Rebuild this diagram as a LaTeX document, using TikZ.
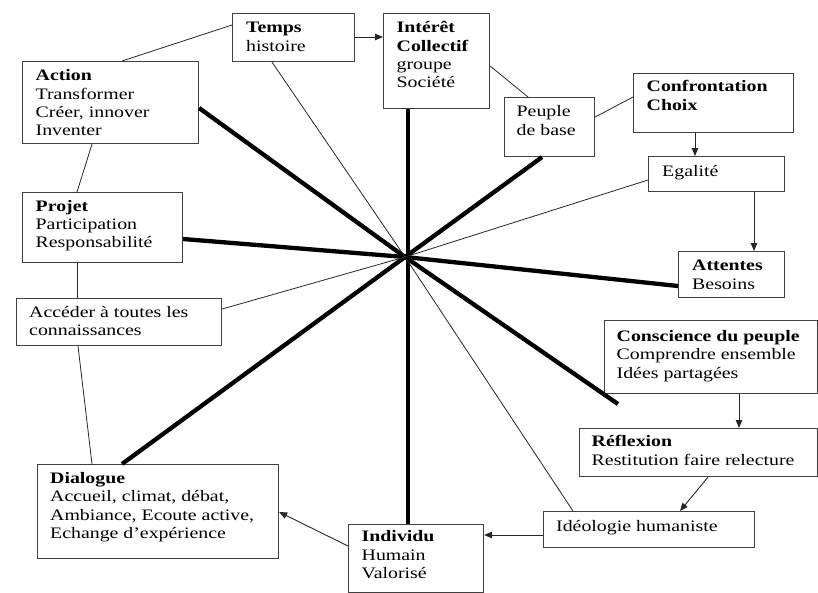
\documentclass[tikz,border=0pt]{standalone}
\usepackage{fontspec}
\setmainfont{Liberation Serif}[FakeStretch=1.24]
\usetikzlibrary{arrows.meta,calc}
\newcommand\tstrut{\rule{0pt}{13pt}}
\begin{document}
\begin{tikzpicture}[x=1pt,y=-1pt,
  box/.style={draw=black!75, line width=1.1pt, anchor=north west, inner sep=0pt},
  txt/.style={anchor=north west, inner sep=0pt, align=left, font=\fontsize{16}{18.4}\selectfont},
  thin/.style={draw=black!85, line width=0.8pt},
  thick/.style={draw=black, line width=4.3pt},
  arr/.style={draw=black!85, line width=0.9pt, -{Triangle[length=8pt,width=6.5pt]}}]
\useasboundingbox (0,0) rectangle (818,592);
% boxes
\node[box, minimum width=122pt, minimum height=48pt] (temps) at (232,13) {};
\node[box, minimum width=106pt, minimum height=95pt] (interet) at (383,13) {};
\node[box, minimum width=176pt, minimum height=82pt] (action) at (22,61) {};
\node[box, minimum width=90pt, minimum height=59pt] (peuple) at (504,97) {};
\node[box, minimum width=160pt, minimum height=59pt] (confront) at (633,73) {};
\node[box, minimum width=136pt, minimum height=35pt] (egalite) at (648,156) {};
\node[box, minimum width=106pt, minimum height=46pt] (attentes) at (678,251) {};
\node[box, minimum width=160pt, minimum height=70pt] (projet) at (22,192) {};
\node[box, minimum width=205pt, minimum height=47pt] (acceder) at (16,298) {};
\node[box, minimum width=213pt, minimum height=73pt] (conscience) at (604,320) {};
\node[box, minimum width=238pt, minimum height=48pt] (reflexion) at (579,428) {};
\node[box, minimum width=211pt, minimum height=36pt] (ideologie) at (543,511) {};
\node[box, minimum width=135pt, minimum height=68pt] (individu) at (348,524) {};
\node[box, minimum width=241pt, minimum height=94pt] (dialogue) at (37,464) {};
% texts
\node[txt] (t-temps) at ($(temps.north west)+(14,6.5)$) {\tstrut\textbf{Temps}\\histoire};
\node[txt] (t-interet) at ($(interet.north west)+(13.5,6.5)$) {\tstrut\textbf{Intérêt}\\\textbf{Collectif}\\groupe\\Société};
\node[txt] (t-action) at ($(action.north west)+(13.5,6.5)$) {\tstrut\textbf{Action}\\Transformer\\Créer, innover\\Inventer};
\node[txt] (t-peuple) at ($(peuple.north west)+(12.5,6.5)$) {\tstrut Peuple\\de base};
\node[txt] (t-confront) at ($(confront.north west)+(13.5,5.5)$) {\tstrut\textbf{Confrontation}\\\textbf{Choix}};
\node[txt] (t-egalite) at ($(egalite.north west)+(14,7)$) {\tstrut Egalité};
\node[txt] (t-attentes) at ($(attentes.north west)+(14,6.5)$) {\tstrut\textbf{Attentes}\\Besoins};
\node[txt] (t-projet) at ($(projet.north west)+(13.5,5.8)$) {\tstrut\textbf{Projet}\\Participation\\Responsabilité};
\node[txt] (t-acceder) at ($(acceder.north west)+(13,6.3)$) {\tstrut Accéder à toutes les\\connaissances};
\node[txt] (t-conscience) at ($(conscience.north west)+(12.5,8)$) {\tstrut\textbf{Conscience du peuple}\\Comprendre ensemble\\Idées partagées};
\node[txt] (t-reflexion) at ($(reflexion.north west)+(12.5,5.7)$) {\tstrut\textbf{Réflexion}\\Restitution faire relecture};
\node[txt] (t-ideologie) at ($(ideologie.north west)+(13,7.5)$) {\tstrut Idéologie humaniste};
\node[txt] (t-individu) at ($(individu.north west)+(13.5,4.7)$) {\tstrut\textbf{Individu}\\Humain\\Valorisé};
\node[txt] (t-dialogue) at ($(dialogue.north west)+(13,6.3)$) {\tstrut\textbf{Dialogue}\\Accueil, climat, débat,\\Ambiance, Ecoute active,\\Echange d’expérience};
% centre
\coordinate (c) at (405,257);
\coordinate (cend) at (618,404);
% thick spokes
\draw[thick] (c) -- (action.east |- 0,108);
\draw[thick] (c) -- (peuple.south -| 542,0);
\draw[thick] (c) -- (projet.east |- 0,239);
\draw[thick] (c) -- (attentes.west |- 0,286);
\draw[thick] (c) -- (dialogue.north -| 122,0);
\draw[thick] (c) -- (cend);
\draw[thick] (interet.south -| 408,0) -- (individu.north -| 408,0);
% thin lines
\draw[thin] (temps.west |- 0,25) -- (action.north -| 122,0);
\draw[thin] (temps.south -| 272,0) -- (c);
\draw[thin] (action.south -| 92,0) -- (projet.north -| 77,0);
\draw[thin] (projet.south -| 77,0) -- (acceder.north -| 77,0);
\draw[thin] (acceder.south -| 78,0) -- (dialogue.north -| 92,0);
\draw[thin] (acceder.east |- 0,309) -- (c);
\draw[thin] (interet.east |- 0,66) -- (peuple.north -| 528,0);
\draw[thin] (peuple.east |- 0,117) -- (confront.west |- 0,97);
\draw[thin] (egalite.west |- 0,180) -- (c);
\draw[thin] (ideologie.north -| 573,0) -- (c);
% arrows
\draw[arr] (temps.east |- 0,37) -- (interet.west |- 0,37);
\draw[arr] (confront.south -| 695,0) -- (egalite.north -| 695,0);
\draw[arr] (egalite.south -| 754,0) -- (attentes.north -| 754,0);
\draw[arr] (conscience.south -| 739,0) -- (reflexion.north -| 739,0);
\draw[arr] (reflexion.south -| 708,0) -- (ideologie.north -| 680,0);
\draw[arr] (ideologie.west |- 0,535) -- (individu.east |- 0,535);
\draw[arr] (individu.west |- 0,546) -- (dialogue.east |- 0,512);
\end{tikzpicture}
\end{document}
